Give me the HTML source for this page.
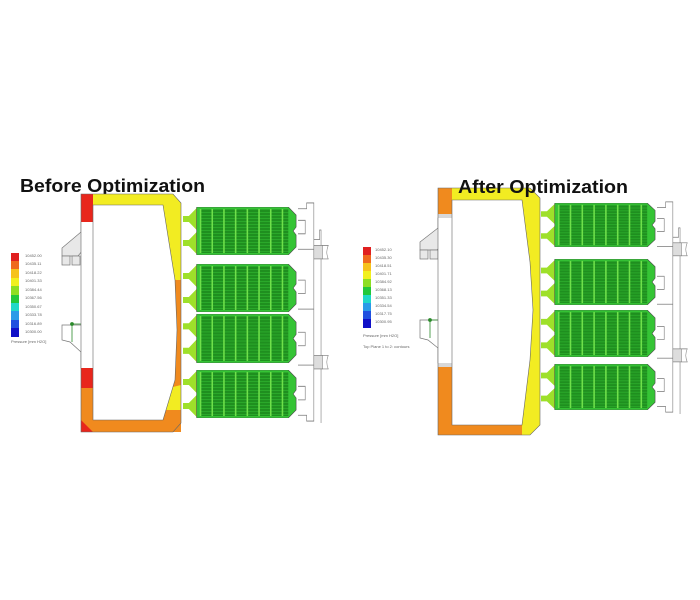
<!DOCTYPE html>
<html><head><meta charset="utf-8"><style>
body{margin:0;background:#fff;}
svg{display:block}
text{font-family:"Liberation Sans",sans-serif}
</style></head><body>
<svg width="700" height="600" viewBox="0 0 700 600" xmlns="http://www.w3.org/2000/svg">
<defs>
<pattern id="hs" width="4" height="3" patternUnits="userSpaceOnUse">
<rect width="4" height="3" fill="#1f8f1f"/><rect y="2" width="4" height="1" fill="#2aa82a"/>
</pattern>
<symbol id="blk" viewBox="0 0 120 48" preserveAspectRatio="none">
<polygon points="0,9 6,9 14,1 14,23 6,15 0,15" fill="#9ee02a"/>
<polygon points="0,33 6,33 14,25 14,47 6,39 0,39" fill="#9ee02a"/>
<polygon points="14,0 108,0 116,8 116,20 113,24 116,28 116,40 108,48 14,48" fill="#35c435" stroke="#4a4a4a" stroke-width="0.6"/>
<rect x="18" y="2" width="90" height="44" fill="url(#hs)"/>
<g stroke="#6fe04a" stroke-width="1.6">
<line x1="18" y1="2" x2="18" y2="46"/><line x1="30" y1="2" x2="30" y2="46"/><line x1="42" y1="2" x2="42" y2="46"/><line x1="54" y1="2" x2="54" y2="46"/><line x1="66" y1="2" x2="66" y2="46"/><line x1="78" y1="2" x2="78" y2="46"/><line x1="90" y1="2" x2="90" y2="46"/><line x1="102" y1="2" x2="102" y2="46"/>
</g>
</symbol>
<symbol id="pipe" viewBox="0 0 50 230" preserveAspectRatio="none">
<g fill="none" stroke="#777" stroke-width="0.8">
<path d="M0,8 H12 V2 H22 V228 H12 V222 H0"/>
<path d="M0,20 H10 V34 H0"/><path d="M0,82 H10 V96 H0"/><path d="M0,136 H10 V150 H0"/><path d="M0,192 H10 V206 H0"/>
<path d="M0,50 H22"/><path d="M0,112 H22"/><path d="M0,170 H22"/>
<path d="M22,40 H30 V30 H32 V230"/>
</g>
<g fill="#ddd" stroke="#777" stroke-width="0.7">
<rect x="22" y="46" width="12" height="14"/><rect x="22" y="160" width="12" height="14"/>
</g>
<g fill="none" stroke="#777" stroke-width="0.7">
<path d="M34,46 H42 Q38,53 42,60 H34"/><path d="M34,160 H42 Q38,167 42,174 H34"/>
</g>
</symbol>
</defs>

<!-- BEFORE -->
<text x="20" y="192" font-size="18" font-weight="bold" fill="#111" textLength="185" lengthAdjust="spacingAndGlyphs">Before Optimization</text>
<g>
<rect x="11" y="253" width="8" height="9" fill="#e02020"/>
<rect x="11" y="261" width="8" height="9" fill="#ef6a1e"/>
<rect x="11" y="269" width="8" height="9" fill="#f6c21c"/>
<rect x="11" y="278" width="8" height="9" fill="#f2f01e"/>
<rect x="11" y="286" width="8" height="9" fill="#8ede22"/>
<rect x="11" y="295" width="8" height="9" fill="#22c83a"/>
<rect x="11" y="303" width="8" height="9" fill="#20d8c8"/>
<rect x="11" y="311" width="8" height="9" fill="#2a9ae8"/>
<rect x="11" y="320" width="8" height="9" fill="#2050e0"/>
<rect x="11" y="328" width="8" height="9" fill="#1010c8"/>
<g font-size="4" fill="#666">
<text x="25" y="257">10452.00</text><text x="25" y="265">10435.11</text><text x="25" y="274">10418.22</text><text x="25" y="282">10401.33</text><text x="25" y="291">10384.44</text><text x="25" y="299">10367.56</text><text x="25" y="308">10350.67</text><text x="25" y="316">10333.78</text><text x="25" y="325">10316.89</text><text x="25" y="333">10300.00</text>
<text x="11" y="343">Pressure [mm H2O]</text>
</g>
</g>
<g fill="#e8e8e8" stroke="#777" stroke-width="0.7">
<polygon points="81,222 93,222 93,238 78,256 62,256 62,248 81,232"/>
<rect x="62" y="256" width="8" height="9"/><rect x="72" y="256" width="8" height="9"/>
<polygon points="62,325 88,325 88,340 93,348 93,368 81,368 81,352 70,342 62,340" fill="#fff"/>
</g>
<g stroke="#2a8a2a" stroke-width="0.8" fill="#2a8a2a"><line x1="72" y1="324" x2="90" y2="324"/><line x1="72" y1="324" x2="72" y2="342"/><circle cx="72" cy="324" r="1.5"/></g>
<polygon points="81,194 173,194 181,203 181,423 173,432 81,432" fill="#f2ec22"/>
<polygon points="163,280 181,280 181,395 163,395" fill="#f08a1e"/>
<polygon points="81,388 181,388 181,432 81,432" fill="#f08a1e"/>
<polygon points="140,395 181,385 181,410 150,410" fill="#f2ec22"/>
<rect x="81" y="194" width="12" height="28" fill="#e8261c"/>
<rect x="81" y="368" width="12" height="20" fill="#e8261c"/>
<polygon points="81,420 93,432 81,432" fill="#e8261c"/>
<polygon points="93,222 81,222 81,368 93,368" fill="#fff"/>
<polygon points="93,205 163,205 175,280 177,330 175,380 163,420 93,420" fill="#fff" stroke="#666" stroke-width="0.6"/>
<polygon points="81,194 173,194 181,203 181,423 173,432 81,432" fill="none" stroke="#666" stroke-width="0.6"/>
<use href="#blk" x="183" y="207" width="117" height="48"/>
<use href="#blk" x="183" y="264" width="117" height="48"/>
<use href="#blk" x="183" y="314" width="117" height="49"/>
<use href="#blk" x="183" y="370" width="117" height="48"/>
<use href="#pipe" x="298" y="201" width="36" height="222"/>

<!-- AFTER -->
<g>
<rect x="363" y="247" width="8" height="8.2" fill="#e02020"/>
<rect x="363" y="255" width="8" height="8.2" fill="#ef6a1e"/>
<rect x="363" y="263" width="8" height="8.2" fill="#f6c21c"/>
<rect x="363" y="271" width="8" height="8.2" fill="#f2f01e"/>
<rect x="363" y="279" width="8" height="8.2" fill="#8ede22"/>
<rect x="363" y="287" width="8" height="8.2" fill="#22c83a"/>
<rect x="363" y="295" width="8" height="8.2" fill="#20d8c8"/>
<rect x="363" y="303" width="8" height="8.2" fill="#2a9ae8"/>
<rect x="363" y="311" width="8" height="8.2" fill="#2050e0"/>
<rect x="363" y="319" width="8" height="9" fill="#1010c8"/>
<g font-size="4" fill="#666">
<text x="375" y="251">10452.10</text><text x="375" y="259">10435.30</text><text x="375" y="267">10418.51</text><text x="375" y="275">10401.71</text><text x="375" y="283">10384.92</text><text x="375" y="291">10368.13</text><text x="375" y="299">10351.33</text><text x="375" y="307">10334.54</text><text x="375" y="315">10317.75</text><text x="375" y="323">10300.95</text>
<text x="363" y="337">Pressure [mm H2O]</text>
<text x="363" y="348">Top Plane 1 to 2: contours</text>
</g>
</g>
<g fill="#e8e8e8" stroke="#777" stroke-width="0.7">
<polygon points="438,218 452,218 452,235 437,250 420,250 420,242 438,228"/>
<rect x="420" y="250" width="8" height="9"/><rect x="430" y="250" width="8" height="9"/>
<polygon points="420,320 445,320 445,333 452,342 452,363 438,363 438,348 428,340 420,338" fill="#fff"/>
</g>
<g stroke="#2a8a2a" stroke-width="0.8" fill="#2a8a2a"><line x1="430" y1="320" x2="450" y2="320"/><line x1="430" y1="320" x2="430" y2="338"/><circle cx="430" cy="320" r="1.5"/></g>
<polygon points="438,188 530,188 540,198 540,425 530,435 438,435" fill="#f08a1e"/>
<polygon points="452,188 530,188 540,198 540,425 530,435 522,435 522,200 452,200" fill="#f2ec22"/>
<rect x="438" y="214" width="14" height="4" fill="#d8d8d8"/>
<rect x="438" y="363" width="14" height="4" fill="#d8d8d8"/>
<polygon points="452,218 438,218 438,363 452,363" fill="#fff"/>
<polygon points="452,200 522,200 530,262 533,310 530,360 522,425 452,425" fill="#fff" stroke="#666" stroke-width="0.6"/>
<polygon points="438,188 530,188 540,198 540,425 530,435 438,435" fill="none" stroke="#666" stroke-width="0.6"/>
<use href="#blk" x="541" y="203" width="118" height="44"/>
<use href="#blk" x="541" y="259" width="118" height="46"/>
<use href="#blk" x="541" y="310" width="118" height="47"/>
<use href="#blk" x="541" y="364" width="118" height="46"/>
<use href="#pipe" x="657" y="200" width="36" height="214"/>
<text x="458" y="193" font-size="18" font-weight="bold" fill="#111" textLength="170" lengthAdjust="spacingAndGlyphs">After Optimization</text>
</svg>
</body></html>
